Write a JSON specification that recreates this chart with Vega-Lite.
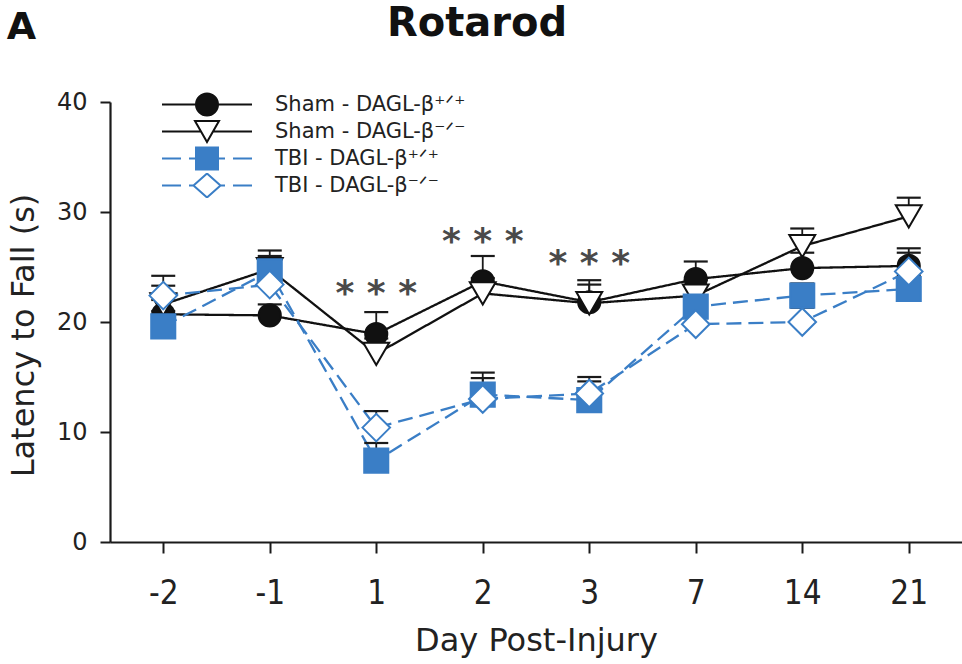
{
  "$schema": "https://vega.github.io/schema/vega-lite/v6.json",
  "width": 852,
  "height": 440,
  "autosize": "none",
  "padding": {"left": 110, "top": 102, "right": 0, "bottom": 122},
  "background": "white",
  "title": {"text": "Rotarod", "font": "DejaVu Sans", "fontSize": 40, "fontWeight": "bold", "color": "#111111", "anchor": "middle", "frame": "group", "dx": -59, "dy": 68, "baseline": "alphabetic", "offset": 0},
  "config": {
    "view": {"stroke": null},
    "axis": {"grid": false, "domainColor": "#1a1a1a", "tickColor": "#1a1a1a", "labelColor": "#222222", "titleColor": "#222222", "domainWidth": 2.2, "tickWidth": 2, "labelFont": "DejaVu Sans", "titleFont": "DejaVu Sans", "titleFontWeight": "normal"}
  },
  "datasets": {
    "series": [
      {"group": "S+", "day": "-2", "mean": 20.7, "upper": 22.0},
      {"group": "S+", "day": "-1", "mean": 20.6, "upper": 21.6},
      {"group": "S+", "day": "1", "mean": 18.9, "upper": 20.9},
      {"group": "S+", "day": "2", "mean": 23.7, "upper": 26.0},
      {"group": "S+", "day": "3", "mean": 21.8, "upper": 23.8},
      {"group": "S+", "day": "7", "mean": 23.9, "upper": 25.5},
      {"group": "S+", "day": "14", "mean": 24.9, "upper": 26.3},
      {"group": "S+", "day": "21", "mean": 25.1, "upper": 26.7},
      {"group": "S-", "day": "-2", "mean": 21.6, "upper": 23.3},
      {"group": "S-", "day": "-1", "mean": 24.8, "upper": 26.5},
      {"group": "S-", "day": "1", "mean": 17.1, "upper": 18.5},
      {"group": "S-", "day": "2", "mean": 22.6, "upper": 24.0},
      {"group": "S-", "day": "3", "mean": 21.7, "upper": 23.4},
      {"group": "S-", "day": "7", "mean": 22.4, "upper": 23.8},
      {"group": "S-", "day": "14", "mean": 26.9, "upper": 28.5},
      {"group": "S-", "day": "21", "mean": 29.6, "upper": 31.3},
      {"group": "T+", "day": "-2", "mean": 19.6, "upper": 21.0},
      {"group": "T+", "day": "-1", "mean": 24.6, "upper": 26.0},
      {"group": "T+", "day": "1", "mean": 7.4, "upper": 9.0},
      {"group": "T+", "day": "2", "mean": 13.4, "upper": 15.4},
      {"group": "T+", "day": "3", "mean": 12.9, "upper": 15.0},
      {"group": "T+", "day": "7", "mean": 21.4, "upper": 22.4},
      {"group": "T+", "day": "14", "mean": 22.4, "upper": 23.5},
      {"group": "T+", "day": "21", "mean": 23.0, "upper": 24.2},
      {"group": "T-", "day": "-2", "mean": 22.4, "upper": 24.2},
      {"group": "T-", "day": "-1", "mean": 23.4, "upper": 25.0},
      {"group": "T-", "day": "1", "mean": 10.4, "upper": 11.9},
      {"group": "T-", "day": "2", "mean": 13.0, "upper": 14.9},
      {"group": "T-", "day": "3", "mean": 13.5, "upper": 14.6},
      {"group": "T-", "day": "7", "mean": 19.8, "upper": 20.8},
      {"group": "T-", "day": "14", "mean": 20.0, "upper": 21.3},
      {"group": "T-", "day": "21", "mean": 24.6, "upper": 26.3}
    ],
    "stars": [
      {"day": "1", "y": 23.45, "label": "* * *"},
      {"day": "2", "y": 28.2, "label": "* * *"},
      {"day": "3", "y": 26.2, "label": "* * *"}
    ]
  },
  "layer": [
    {
      "data": {"name": "series"},
      "mark": {"type": "line", "strokeWidth": 2.3},
      "encoding": {
        "x": {"field": "day", "type": "ordinal", "scale": {"type": "point", "domain": ["-2", "-1", "1", "2", "3", "7", "14", "21"], "padding": 0.5},
          "axis": {"orient": "bottom", "title": "Day Post-Injury", "labelAngle": 0, "labelFont": "DejaVu Sans Condensed, DejaVu Sans", "labelFontSize": 33, "labelBaseline": "alphabetic", "labelPadding": 50, "tickSize": 11, "titleFontSize": 32, "titleY": 108, "titleBaseline": "alphabetic"}},
        "y": {"field": "mean", "type": "quantitative", "scale": {"domain": [0, 40], "nice": false},
          "axis": {"title": "Latency to Fall (s)", "values": [0, 10, 20, 30, 40], "labelFontSize": 24, "labelPadding": 13, "tickSize": 10, "titleFontSize": 32, "titleX": -77, "titleY": 233, "titleBaseline": "alphabetic", "titleAngle": -90, "titleAlign": "center"}},
        "stroke": {"field": "group", "type": "nominal", "scale": {"domain": ["T+", "T-", "S+", "S-"], "range": ["#3a7ec6", "#3a7ec6", "#111111", "#111111"]}, "legend": null},
        "strokeDash": {"field": "group", "type": "nominal", "scale": {"domain": ["T-", "T+", "S-", "S+"], "range": [[15, 7], [15, 7], [1, 0], [1, 0]]}, "legend": null}
      }
    },
    {
      "data": {"name": "series"},
      "mark": {"type": "rule", "color": "#1a1a1a", "strokeWidth": 1.8},
      "encoding": {
        "x": {"field": "day", "type": "ordinal", "axis": null},
        "y": {"field": "mean", "type": "quantitative"},
        "y2": {"field": "upper"}
      }
    },
    {
      "data": {"name": "series"},
      "mark": {"type": "tick", "color": "#1a1a1a", "size": 24, "thickness": 2.2, "orient": "horizontal", "opacity": 1},
      "encoding": {
        "x": {"field": "day", "type": "ordinal", "axis": null},
        "y": {"field": "upper", "type": "quantitative"}
      }
    },
    {
      "data": {"name": "series"},
      "mark": {"type": "point", "opacity": 1, "strokeWidth": 2},
      "encoding": {
        "x": {"field": "day", "type": "ordinal", "axis": null},
        "y": {"field": "mean", "type": "quantitative"},
        "shape": {"field": "group", "type": "nominal", "scale": {"domain": ["S-", "S+", "T-", "T+"], "range": ["triangle-down", "circle", "diamond", "square"]}, "legend": null},
        "fill": {"field": "group", "type": "nominal", "scale": {"domain": ["S-", "S+", "T-", "T+"], "range": ["#ffffff", "#111111", "#ffffff", "#3a7ec6"]}, "legend": null},
        "stroke": {"field": "group", "type": "nominal", "scale": {"domain": ["T+", "T-", "S+", "S-"], "range": ["#3a7ec6", "#3a7ec6", "#111111", "#111111"]}, "legend": null},
        "size": {"field": "group", "type": "ordinal", "scale": {"domain": ["S+", "T+", "S-", "T-"], "range": [490, 760], "padding": 0}, "legend": null}
      }
    },
    {
      "data": {"name": "series"},
      "mark": {"type": "point", "opacity": 0, "filled": true, "strokeWidth": 2},
      "encoding": {
        "x": {"field": "day", "type": "ordinal", "axis": null},
        "y": {"field": "mean", "type": "quantitative"},
        "shape": {"field": "group", "type": "nominal",
          "scale": {"domain": ["S+", "S-", "T+", "T-"], "range": [
            "M0,0H3.4M5.6,0H9M3.4,0A1.1,1.1,0,1,1,5.6,0A1.1,1.1,0,1,1,3.4,0Z",
            "M0,0H3.9M5.1,0H9M3.3,-1.05H5.7L4.5,1.05Z",
            "M0,0H1.9M2.7,0H3.4M5.6,0H6.3M7.1,0H9M3.4,-1.1H5.6V1.1H3.4Z",
            "M0,0H1.9M2.7,0H3.15M5.85,0H6.3M7.1,0H9M3.15,0L4.5,-1.2L5.85,0L4.5,1.2Z"]},
          "legend": {"orient": "none", "legendX": 41, "legendY": -10, "title": null, "symbolSize": 400, "symbolOpacity": 1, "symbolStrokeWidth": 2, "labelFont": "DejaVu Sans", "labelFontSize": 21, "labelColor": "#222222", "labelOffset": 102, "labelLimit": 0, "rowPadding": 2, "clipHeight": 25,
            "labelExpr": "datum.value == 'S+' ? 'Sham - DAGL-β⁺ᐟ⁺' : datum.value == 'S-' ? 'Sham - DAGL-β⁻ᐟ⁻' : datum.value == 'T+' ? 'TBI - DAGL-β⁺ᐟ⁺' : 'TBI - DAGL-β⁻ᐟ⁻'"}},
        "fill": {"field": "group", "type": "nominal", "scale": {"domain": ["S+", "S-", "T+", "T-"], "range": ["#111111", "#ffffff", "#3a7ec6", "#ffffff"]}},
        "stroke": {"field": "group", "type": "nominal", "scale": {"domain": ["S+", "S-", "T+", "T-"], "range": ["#111111", "#111111", "#3a7ec6", "#3a7ec6"]}}
      }
    },
    {
      "data": {"name": "stars"},
      "mark": {"type": "text", "font": "DejaVu Sans", "fontSize": 36, "fontWeight": "bold", "color": "#4a4a4a", "baseline": "alphabetic", "dy": 21},
      "encoding": {
        "x": {"field": "day", "type": "ordinal", "axis": {"orient": "top", "domain": false, "ticks": false, "labels": false, "title": "A", "titleFont": "DejaVu Sans", "titleFontWeight": "bold", "titleFontSize": 38, "titleX": -89, "titleY": -64, "titleAlign": "center", "titleBaseline": "alphabetic", "titleColor": "#111111"}},
        "y": {"field": "y", "type": "quantitative"},
        "text": {"field": "label"}
      }
    }
  ],
  "resolve": {"axis": {"x": "independent"}, "scale": {"shape": "independent", "fill": "independent", "stroke": "independent", "strokeDash": "independent", "size": "independent"}}
}
